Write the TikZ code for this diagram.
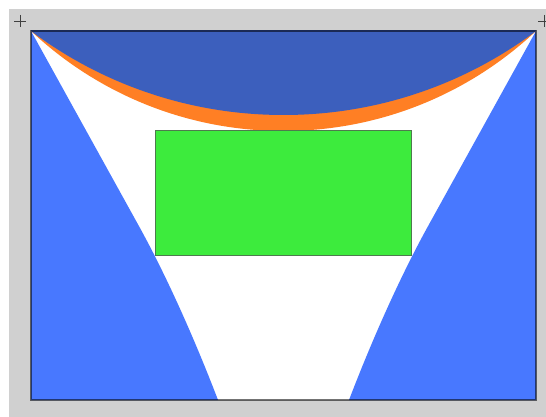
\documentclass[tikz,border=0pt]{standalone}
\usetikzlibrary{calc}
\definecolor{PanelGray}{HTML}{D0D0D0}
\definecolor{CapBlue}{HTML}{3C5FBD}
\definecolor{SideBlue}{HTML}{4878FF}
\definecolor{RimOrange}{HTML}{FF7F24}
\definecolor{CoreGreen}{HTML}{3DEB3D}
\definecolor{CoreEdge}{HTML}{4E7A4E}
\tikzset{
  capfill/.style={fill=CapBlue},
  rimfill/.style={fill=RimOrange},
  sidefill/.style={fill=SideBlue},
  corebox/.style={fill=CoreGreen, draw=CoreEdge, line width=1pt},
  frameline/.style={draw=black, draw opacity=0.55, line width=1.2pt},
  crossmark/.style={draw=black!75, line width=0.8pt}
}
\begin{document}
\begin{tikzpicture}[x=1pt, y=-1pt]
  \useasboundingbox (0,0) rectangle (546,417);
  \fill[white] (0,0) rectangle (546,417);
  \fill[PanelGray] (8.5,9) rectangle (546,417);
  \coordinate (tl) at (31,31);
  \coordinate (br) at (536,400);
  \fill[white] (tl) rectangle (br);
  % top cap and its rim
  \begin{scope}
    \clip (tl) rectangle (br);
    \fill[rimfill] (283.5,-237.8) circle[radius=368.8pt];
    \fill[capfill] (283.5,-306.5) circle[radius=421.5pt];
  \end{scope}
  % side walls
  \fill[sidefill] (31,31) -- (140,228) .. controls (167.5,278) and (195,340)
    .. (218,400) -- (31,400) -- cycle;
  \fill[sidefill] (536,31) -- (427,228) .. controls (399.5,278) and (372,340)
    .. (349,400) -- (536,400) -- cycle;
  % core
  \draw[corebox] (155,131) rectangle (411,255);
  \draw[frameline] (tl) rectangle (br);
  % corner marks
  \draw[crossmark] (14,21) -- (26,21) (20,15) -- (20,27);
  \draw[crossmark] (538,21) -- (550,21) (544,15) -- (544,27);
\end{tikzpicture}
\end{document}
